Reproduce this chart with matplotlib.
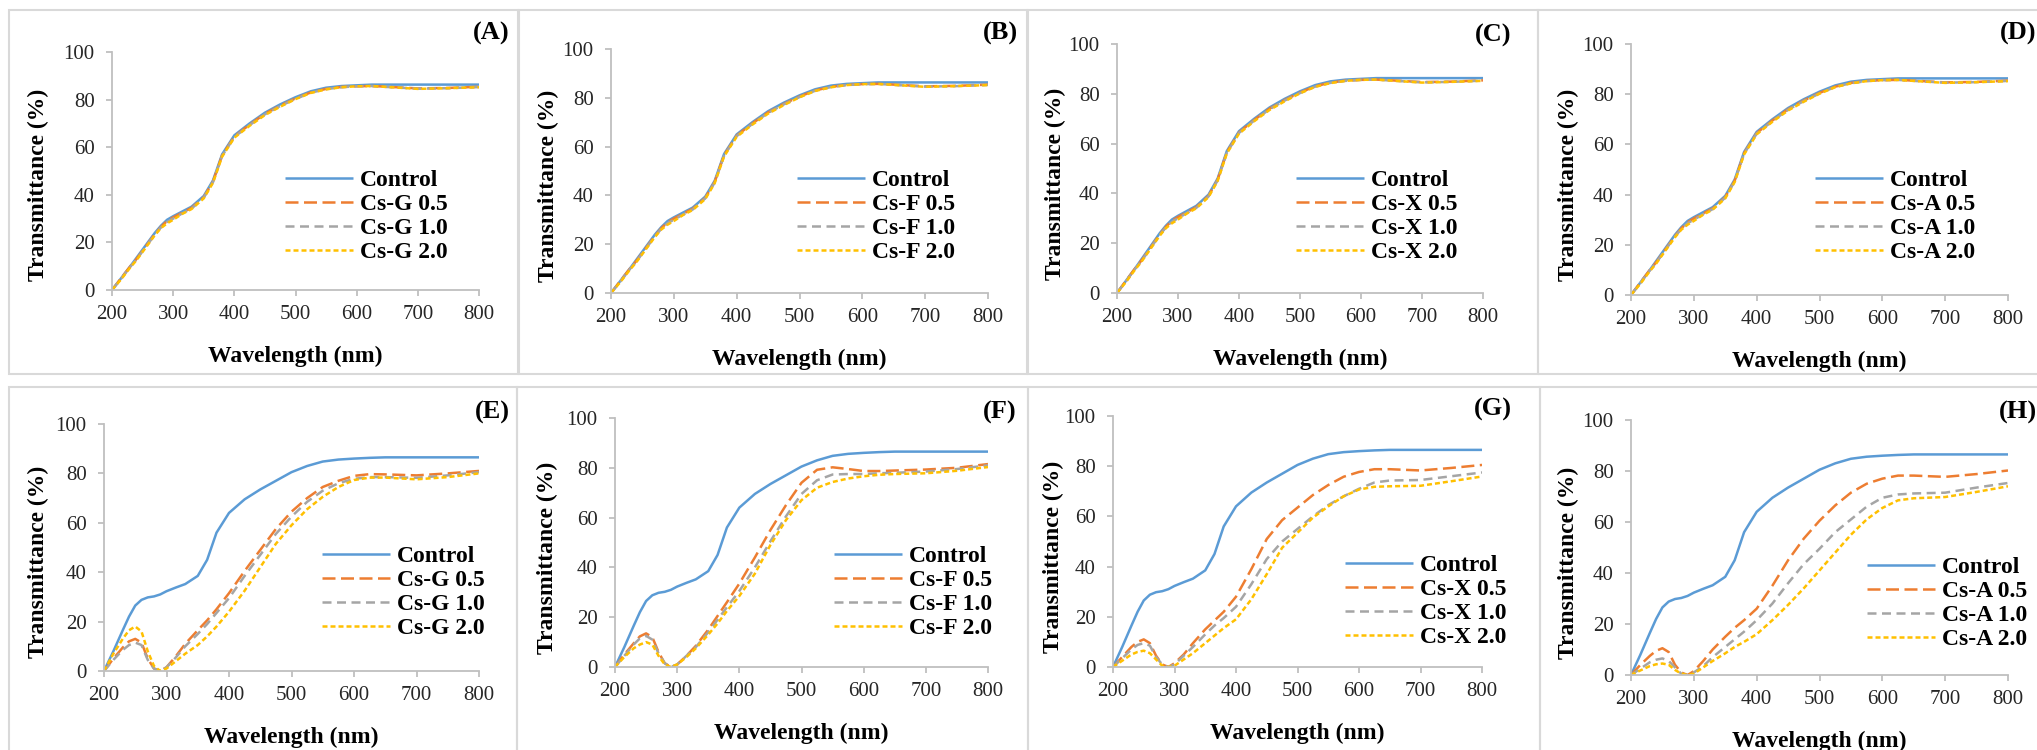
import matplotlib.pyplot as plt
from matplotlib.patches import Rectangle

plt.rcParams['font.family'] = ['Liberation Serif', 'DejaVu Serif']

# wavelength grid (nm)
wl = [200, 215, 230, 240, 250, 260, 270, 280, 290, 300, 315, 330, 350, 365, 380,
      400, 425, 450, 475, 500, 525, 550, 575, 600, 625, 650, 700, 750, 800]

# top row (A-D)
ctrl_top = [0, 5, 10, 13.5, 17, 20.5, 24, 27, 29.5, 31, 33, 35, 39.5, 46, 57,
            65, 70, 74.5, 78, 81, 83.5, 85, 85.7, 86, 86.3, 86.3, 86.3, 86.3, 86.3]
a_05 = [0, 5, 10, 13, 16.5, 20, 23.5, 26.5, 29, 30.5, 32.5, 34.5, 39, 45.5, 56.5,
        64.5, 69.5, 74, 77.5, 80.5, 83, 84.5, 85.3, 85.6, 85.7, 85.4, 84.7, 84.9, 85.4]
a_10 = [0, 4.8, 9.8, 12.8, 16.3, 19.8, 23.3, 26.3, 28.6, 30, 32.2, 34.2, 38.8, 45.3, 56.3,
        64.3, 69.3, 73.8, 77.3, 80.3, 82.9, 84.4, 85.2, 85.6, 85.7, 85.3, 84.6, 84.8, 85.3]
a_20 = [0, 4.5, 9.5, 12.5, 16, 19.5, 23, 26, 28, 29.5, 32, 34, 38.5, 45, 56,
        64, 69, 73.5, 77, 80.2, 82.8, 84.3, 85.2, 85.6, 85.7, 85.3, 84.5, 84.8, 85.2]
b_05 = a_05
b_10 = a_10
b_20 = a_20
c_05 = a_05
c_10 = a_10
c_20 = a_20
d_05 = a_05
d_10 = a_10
d_20 = a_20

# bottom row (E-H)
ctrl_bot = [0, 8, 16.5, 22, 26.5, 28.8, 29.8, 30.2, 31, 32.3, 33.8, 35.2, 38.5, 45, 56,
            64, 69.5, 73.5, 77, 80.5, 83, 84.8, 85.6, 86, 86.3, 86.5, 86.5, 86.5, 86.5]
e_05 = [0, 5, 9.5, 12, 13, 11.5, 5, 1, 0, 1.5, 6, 11, 16.5, 20.5, 25,
        31.5, 40.5, 49, 57.5, 64.5, 70, 74.5, 77, 79, 79.7, 79.6, 79.2, 80, 81]
e_10 = [0, 4.5, 8.5, 10.5, 11.5, 10.5, 4.5, 1, 0, 1.5, 5.5, 10, 15, 19, 23.5,
        29.5, 38.5, 47, 55.5, 62.5, 68.5, 73, 76, 77.8, 78.5, 78.5, 78.2, 79.2, 80.5]
e_20 = [0, 7, 13, 16.5, 18, 16, 8, 2, 0, 1, 4, 7, 10.5, 14, 18,
        24, 32.5, 42, 51.5, 59, 65.5, 70.5, 74.5, 77.3, 78.3, 78.3, 77.6, 78.5, 80]
f_05 = [0, 5, 9.5, 12.3, 13.5, 12, 6, 1.5, 0, 1, 4.5, 8.5, 15, 20.5, 26,
        33.5, 44, 55, 65, 74, 79.2, 80.2, 79.5, 78.7, 78.7, 78.9, 79.3, 80, 81.5]
f_10 = [0, 4.5, 9, 11.5, 12.5, 11, 5.5, 1.5, 0, 1, 4.5, 8, 14, 19, 24,
        30.5, 40, 50.5, 60.5, 69.5, 75, 77.3, 77.5, 77.5, 77.8, 78, 78.5, 79.5, 81]
f_20 = [0, 4, 7.5, 9, 10, 9, 4.5, 1, 0, 1, 4, 7.5, 13, 17.5, 22.5,
        28.5, 37.5, 49, 59, 67, 72, 74.3, 75.7, 76.6, 77.2, 77.5, 77.8, 78.8, 80.3]
g_05 = [0, 4, 8, 10, 11, 9.5, 4.5, 1, 0, 1.5, 5, 9.5, 15, 18.5, 22,
        28, 39, 51, 58.5, 63.5, 68.5, 72.5, 75.8, 77.7, 78.8, 78.8, 78.3, 79.3, 80.5]
g_10 = [0, 3.5, 7, 8.8, 9.5, 8.5, 4, 1, 0, 1, 4.5, 8, 13, 16.5, 19.5,
        24, 33, 43, 50, 55, 60, 64.5, 68, 71, 73.5, 74.3, 74.5, 76, 77.5]
g_20 = [0, 2.5, 5, 6, 6.5, 5.5, 3, 0.5, 0, 0.5, 3, 5.5, 9.5, 12.5, 15.5,
        19, 27, 37, 47.5, 53.5, 59.5, 64, 68, 70.7, 71.8, 72, 72.2, 74, 75.9]
h_05 = [0, 4, 7.5, 9.5, 10.5, 9, 4, 1, 0, 1.5, 5.5, 10, 15, 18.5, 21.5,
        26, 35, 45, 53.5, 60.5, 66.5, 71.5, 75, 77, 78.2, 78.2, 77.7, 78.8, 80.2]
h_10 = [0, 2.5, 5, 6, 6.5, 5.5, 3, 0.5, 0, 1, 3.5, 7, 11, 14, 17,
        21.5, 28, 36, 43.5, 49.5, 56, 61, 66, 69.5, 70.8, 71.2, 71.5, 73.5, 75.3]
h_20 = [0, 1.8, 3.5, 4.2, 4.5, 4, 2, 0.5, 0, 0.5, 3, 5.5, 8.5, 11, 13,
        16, 21.5, 27.5, 34, 41, 48, 55, 61, 65.5, 68.5, 69.3, 69.8, 71.8, 74]

W, H = 2037, 750
fig = plt.figure(figsize=(W / 100, H / 100), dpi=100)

colors = ['#5B9BD5', '#ED7D31', '#A5A5A5', '#FFC000']
lw = 1.8
styles = [(0, ()), (0, (5.2, 2.2)), (0, (3.6, 2.2)), (0, (2.0, 1.2))]

# label, sample, series, axes box (l, r, t, b px), ylabel offset, legend (x, y), tag pos, frame
panels = [
    ('(A)', 'Cs-G', [ctrl_top, a_05, a_10, a_20], (112, 479, 52, 290), 74, (273, 172), (491, 33), (9, 518, 10, 374)),
    ('(B)', 'Cs-F', [ctrl_top, b_05, b_10, b_20], (611, 988, 49, 293), 63, (785, 172), (1000, 33), (519, 1027, 10, 374)),
    ('(C)', 'Cs-X', [ctrl_top, c_05, c_10, c_20], (1117, 1483, 44, 293), 62, (1284, 172), (1493, 35), (1028, 1538, 10, 374)),
    ('(D)', 'Cs-A', [ctrl_top, d_05, d_10, d_20], (1631, 2008, 44, 295), 63, (1803, 172), (2018, 33), (1538, 2050, 10, 374)),
    ('(E)', 'Cs-G', [ctrl_bot, e_05, e_10, e_20], (104, 479, 424, 671), 66, (310, 548), (492, 412), (9, 517, 387, 760)),
    ('(F)', 'Cs-F', [ctrl_bot, f_05, f_10, f_20], (615, 988, 418, 667), 68, (822, 548), (1000, 412), (517, 1028, 387, 760)),
    ('(G)', 'Cs-X', [ctrl_bot, g_05, g_10, g_20], (1113, 1482, 416, 667), 60, (1333, 557), (1493, 409), (1028, 1540, 387, 760)),
    ('(H)', 'Cs-A', [ctrl_bot, h_05, h_10, h_20], (1631, 2008, 420, 675), 63, (1855, 559), (2018, 412), (1540, 2050, 387, 760)),
]

for tag, name, series, box, yoff, legpos, tagpos, frame in panels:
    fx0, fx1, fy0, fy1 = frame
    fig.add_artist(Rectangle((fx0 / W, 1 - fy1 / H), (fx1 - fx0) / W, (fy1 - fy0) / H,
                             transform=fig.transFigure, fill=False, ec='#d9d9d9', lw=1.5))
    l, r, t, b = box
    ax = fig.add_axes([l / W, 1 - b / H, (r - l) / W, (b - t) / H])
    labels = ['Control', name + ' 0.5', name + ' 1.0', name + ' 2.0']
    for s, lab, c, ls in zip(series, labels, colors, styles):
        ax.plot(wl, s, color=c, linestyle=ls, lw=lw, label=lab)
    ax.set_xlim(200, 800)
    ax.set_ylim(0, 100)
    ax.set_xticks(range(200, 801, 100))
    ax.set_yticks(range(0, 101, 20))
    for sp in ['top', 'right']:
        ax.spines[sp].set_visible(False)
    for sp in ['left', 'bottom']:
        ax.spines[sp].set_color('#bfbfbf')
        ax.spines[sp].set_linewidth(1.3)
    ax.tick_params(axis='both', colors='#bfbfbf', labelcolor='#262626', labelsize=15,
                   length=4.5, width=1.3)
    ax.tick_params(axis='x', pad=6)
    ax.tick_params(axis='y', pad=8)
    ax.set_xlabel('Wavelength (nm)', fontsize=17, fontweight='bold')
    ax.set_ylabel('Transmittance (%)', fontsize=17, fontweight='bold')
    ax.xaxis.label.set_va('center')
    ax.xaxis.set_label_coords(0.5, -66 / (b - t))
    ax.yaxis.label.set_va('center')
    ax.yaxis.set_label_coords(-yoff / (r - l), 0.44)
    lx, ly = legpos
    ax.legend(loc='upper left', bbox_to_anchor=(lx / W, 1 - (ly - 14) / H),
              bbox_transform=fig.transFigure, frameon=False, borderpad=0,
              handlelength=2.9, handletextpad=0.3, labelspacing=0.1,
              prop={'size': 17, 'weight': 'bold'})
    fig.text(tagpos[0] / W, 1 - tagpos[1] / H, tag, fontsize=19, fontweight='bold',
             ha='center', va='center')

fig.savefig('out.png', dpi=100)
